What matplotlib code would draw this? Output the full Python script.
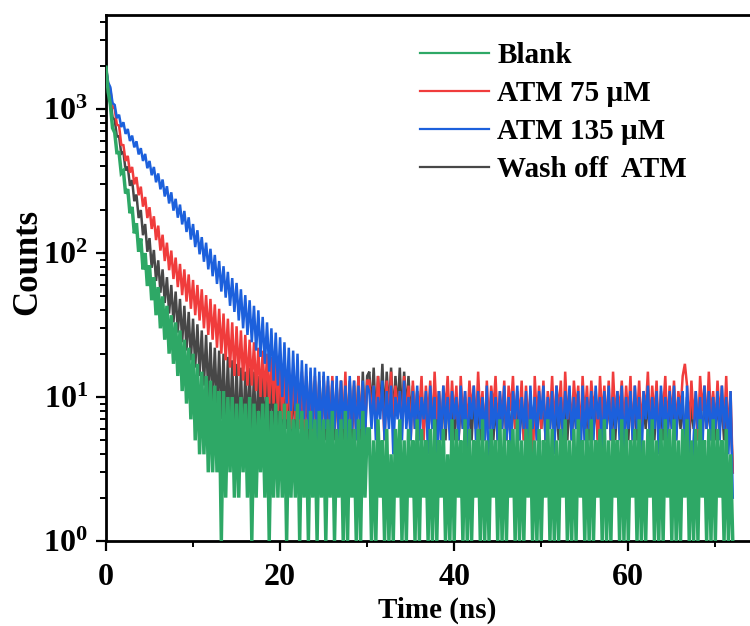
import numpy as np
import matplotlib
matplotlib.use("Agg")
import matplotlib.pyplot as plt
from matplotlib.ticker import MultipleLocator, LogLocator, NullFormatter, FuncFormatter

# TCSPC decay traces, one value per 0.25 ns bin
# (values alternate between the upper and lower edge of each noisy band)
BIN_NS = 0.25

labels = ["Blank", "ATM 75 \u00b5M", "ATM 135 \u00b5M", "Wash off  ATM"]
colors = ["#2ea866", "#f03c3c", "#1c60dc", "#474747"]

blank = [
    1950, 1313, 1077, 739, 686, 498, 499, 359, 373, 259, 278, 189, 209, 137, 161, 102, 126, 77, 100, 59, 82,
    47, 68, 37, 58, 30, 50, 25, 43, 20, 37, 17, 33, 14, 29, 11, 25, 9, 22, 7, 20,
    5, 17, 4, 15, 4, 14, 3, 13, 3, 12, 3, 11, 1, 11, 2, 10, 3, 10, 2, 9,
    2, 10, 3, 9, 2, 10, 1, 9, 2, 8, 3, 9, 2, 10, 1, 8, 2, 9, 2, 8,
    2, 9, 1, 8, 2, 7, 2, 9, 1, 8, 2, 7, 1, 8, 2, 7, 1, 8, 2, 7,
    1, 7, 2, 8, 1, 6, 2, 7, 1, 8, 1, 7, 2, 6, 1, 7, 1, 8, 2, 6,
    6, 1, 5, 1, 7, 2, 5, 1, 6, 1, 4, 1, 6, 2, 7, 1, 5, 1, 6, 2,
    5, 1, 7, 1, 6, 2, 5, 1, 6, 1, 7, 1, 5, 2, 6, 1, 4, 1, 7, 1,
    6, 2, 5, 1, 7, 1, 6, 1, 5, 2, 6, 1, 7, 1, 5, 1, 6, 2, 5, 1,
    7, 1, 6, 1, 5, 2, 6, 1, 7, 1, 5, 1, 6, 2, 7, 1, 5, 1, 6, 1,
    5, 2, 7, 1, 6, 1, 5, 1, 6, 2, 7, 1, 5, 1, 6, 1, 7, 2, 5, 1,
    6, 1, 7, 1, 5, 2, 6, 1, 7, 1, 5, 1, 6, 2, 5, 1, 7, 1, 6, 1,
    5, 2, 6, 1, 7, 1, 5, 1, 6, 2, 7, 1, 5, 1, 6, 1, 7, 2, 6, 1,
    7, 1, 5, 1, 6, 2, 7, 1, 5, 1, 6, 1, 7, 2, 5, 1, 6, 1, 7, 1,
    6, 2, 5, 1, 6, 1, 4, 1,
]

atm_75 = [
    1950, 1490, 1365, 1040, 1005, 778, 768, 566, 561, 436, 473, 362, 396, 300, 337, 252, 289, 210, 245, 175, 208,
    147, 180, 123, 155, 104, 134, 88, 118, 76, 104, 66, 93, 58, 84, 51, 77, 46, 71, 41, 65,
    37, 60, 34, 56, 30, 51, 27, 48, 25, 44, 22, 41, 20, 38, 18, 35, 16, 33, 14, 31,
    14, 29, 13, 27, 12, 25, 12, 24, 11, 22, 10, 21, 10, 20, 9, 19, 9, 18, 8, 17,
    7, 16, 7, 15, 6, 16, 7, 14, 6, 15, 5, 14, 6, 15, 5, 14, 6, 13, 5, 14,
    6, 13, 5, 14, 6, 12, 5, 13, 6, 15, 5, 12, 6, 13, 5, 14, 6, 12, 5, 13,
    13, 7, 12, 6, 14, 8, 11, 5, 13, 7, 15, 6, 12, 8, 11, 6, 14, 7, 12, 5,
    13, 6, 11, 8, 14, 5, 12, 7, 13, 6, 15, 7, 11, 5, 12, 8, 14, 6, 13, 7,
    12, 5, 14, 7, 11, 6, 13, 8, 12, 6, 15, 7, 11, 5, 13, 6, 12, 8, 14, 6,
    11, 7, 13, 5, 12, 8, 14, 6, 11, 7, 13, 5, 12, 6, 11, 2, 14, 7, 12, 6,
    13, 5, 11, 7, 14, 6, 12, 8, 13, 5, 15, 7, 11, 6, 13, 8, 12, 5, 14, 7,
    12, 6, 13, 8, 11, 5, 14, 7, 12, 6, 13, 5, 15, 7, 11, 8, 13, 6, 12, 7,
    14, 5, 12, 7, 13, 6, 11, 8, 15, 6, 12, 7, 13, 5, 11, 8, 14, 6, 12, 7,
    13, 6, 11, 8, 14, 17, 12, 6, 13, 7, 11, 5, 14, 8, 12, 6, 15, 7, 11, 6,
    13, 7, 12, 6, 14, 5, 11, 3,
]

atm_135 = [
    1950, 1530, 1416, 1100, 1067, 866, 913, 750, 810, 672, 727, 600, 654, 542, 597, 484, 535, 436, 488, 388, 436,
    347, 396, 310, 357, 277, 324, 247, 291, 221, 264, 197, 238, 176, 217, 158, 196, 140, 177, 124, 159,
    110, 144, 98, 129, 87, 118, 77, 107, 69, 97, 61, 88, 54, 81, 49, 74, 43, 67, 39, 62,
    34, 56, 30, 51, 27, 47, 24, 43, 21, 40, 19, 36, 17, 33, 15, 30, 13, 28, 12, 26,
    10, 24, 9, 22, 8, 21, 8, 20, 7, 18, 7, 17, 6, 16, 6, 16, 5, 15, 5, 15,
    6, 14, 5, 13, 6, 14, 5, 13, 6, 12, 5, 14, 6, 13, 5, 12, 6, 13, 5, 12,
    11, 6, 12, 5, 10, 7, 13, 5, 11, 6, 12, 4, 10, 7, 11, 5, 13, 6, 10, 5,
    11, 6, 12, 5, 10, 7, 11, 4, 12, 6, 10, 2, 11, 5, 12, 6, 10, 5, 11, 7,
    10, 5, 12, 6, 11, 4, 10, 7, 12, 5, 11, 6, 10, 5, 12, 2, 11, 6, 10, 5,
    11, 6, 12, 5, 10, 4, 11, 7, 12, 5, 10, 6, 11, 3, 12, 6, 10, 5, 11, 7,
    12, 5, 10, 6, 11, 4, 12, 6, 10, 5, 11, 7, 12, 5, 10, 6, 11, 3, 12, 5,
    10, 6, 11, 5, 12, 7, 10, 4, 11, 6, 12, 5, 10, 6, 11, 5, 12, 4, 10, 6,
    11, 5, 12, 6, 10, 3, 11, 7, 12, 5, 10, 6, 11, 4, 12, 6, 10, 5, 11, 6,
    12, 5, 10, 7, 11, 4, 12, 6, 2, 5, 11, 6, 10, 4, 12, 6, 11, 5, 10, 6,
    11, 5, 12, 6, 10, 4, 11, 2,
]

wash_off = [
    1950, 1381, 1190, 875, 841, 643, 649, 489, 504, 374, 399, 293, 321, 229, 255, 175, 199, 133, 159, 102, 127,
    79, 105, 64, 89, 53, 77, 45, 68, 38, 60, 33, 54, 28, 48, 24, 43, 21, 39, 18, 35,
    16, 32, 14, 29, 12, 27, 10, 24, 9, 22, 8, 21, 7, 20, 6, 19, 6, 18, 5, 17,
    5, 16, 5, 15, 6, 16, 5, 15, 5, 14, 6, 15, 5, 14, 5, 15, 6, 14, 5, 14,
    5, 14, 6, 13, 5, 14, 5, 13, 6, 14, 5, 13, 5, 14, 6, 13, 5, 13, 6, 14,
    5, 12, 6, 13, 5, 12, 6, 13, 5, 12, 6, 13, 5, 12, 6, 14, 5, 15, 6, 14,
    15, 8, 16, 7, 14, 8, 17, 7, 15, 8, 16, 7, 14, 8, 16, 7, 15, 8, 14, 7,
    12, 6, 11, 5, 12, 6, 10, 5, 11, 6, 10, 5, 11, 6, 10, 5, 11, 6, 10, 5,
    10, 5, 9, 6, 10, 5, 9, 5, 10, 6, 9, 5, 10, 5, 9, 6, 10, 5, 9, 5,
    9, 6, 10, 5, 9, 5, 10, 6, 9, 5, 10, 5, 9, 6, 10, 5, 9, 5, 10, 6,
    10, 5, 9, 6, 10, 5, 9, 5, 10, 6, 9, 5, 10, 5, 9, 6, 10, 5, 9, 5,
    9, 5, 10, 6, 9, 5, 10, 5, 9, 6, 10, 5, 9, 5, 10, 6, 9, 5, 10, 5,
    10, 6, 9, 5, 10, 5, 9, 6, 10, 5, 9, 5, 10, 6, 9, 5, 10, 5, 9, 6,
    9, 5, 10, 6, 9, 5, 10, 5, 9, 6, 10, 5, 9, 5, 10, 6, 9, 5, 10, 5,
    10, 6, 9, 5, 10, 5, 8, 3,
]

series = [blank, atm_75, atm_135, wash_off]
# drawing order: wash off at the back, blank on top
zorders = [5, 3, 4, 2]
widths = [2.5, 1.8, 1.8, 1.8]

plt.rcParams.update({
    "font.family": "Liberation Serif",
    "font.weight": "bold",
    "mathtext.fontset": "custom",
    "mathtext.rm": "Liberation Serif:bold",
    "mathtext.bf": "Liberation Serif:bold",
    "mathtext.it": "Liberation Serif:bold:italic",
})

fig = plt.figure(figsize=(7.5, 6.26), dpi=100)
ax = fig.add_axes([106 / 750, 85 / 626, 0.8821, 526 / 626])

handles = []
for counts, label, color, z, lw in zip(series, labels, colors, zorders, widths):
    t = np.arange(len(counts)) * BIN_NS
    line, = ax.plot(t, counts, color=color, lw=lw, zorder=z, label=label,
                    solid_joinstyle="miter")
    handles.append(line)

ax.set_yscale("log")
ax.set_ylim(1, 4500)
ax.set_xlim(0, 76)

ax.xaxis.set_major_locator(MultipleLocator(20))
ax.xaxis.set_minor_locator(MultipleLocator(10))
ax.yaxis.set_major_locator(LogLocator(base=10))
ax.yaxis.set_minor_locator(LogLocator(base=10, subs=np.arange(2, 10)))
ax.yaxis.set_minor_formatter(NullFormatter())
ax.yaxis.set_major_formatter(FuncFormatter(lambda v, pos: r"$\mathbf{10^{%d}}$" % round(np.log10(v))))

ax.tick_params(which="major", direction="out", length=7, width=1.6, labelsize=23)
ax.tick_params(axis="x", which="major", pad=9)
ax.tick_params(axis="y", which="major", pad=6)
ax.tick_params(which="minor", direction="out", length=4, width=1.4)
ax.tick_params(top=False, right=False)
for lbl in ax.get_xticklabels():
    lbl.set_fontweight("bold")

for side in ["left", "bottom", "top"]:
    ax.spines[side].set_linewidth(2.0)
ax.spines["right"].set_visible(False)

ax.set_xlabel("Time (ns)", fontsize=21, fontweight="bold")
ax.set_ylabel("Counts", fontsize=25, fontweight="bold")
ax.xaxis.set_label_coords(0.5, -0.105)
ax.yaxis.set_label_coords(-0.093, 0.53)

leg = fig.legend(handles=handles, labels=labels, loc="upper left",
                 bbox_to_anchor=(420 / 750, (626 - 42) / 626),
                 frameon=False, borderpad=0, borderaxespad=0,
                 handlelength=2.35, handletextpad=0.3, labelspacing=0.38,
                 prop={"family": "Liberation Serif", "weight": "bold", "size": 21})
for lh in leg.get_lines():
    lh.set_linewidth(1.6)

fig.savefig("out.png", dpi=100)
plt.close(fig)
